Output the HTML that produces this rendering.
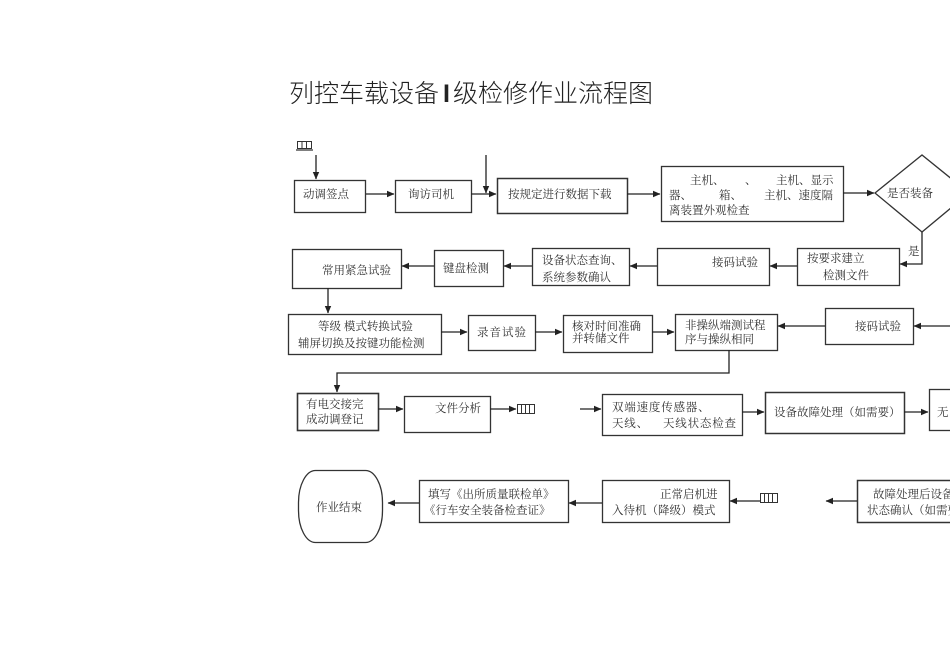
<!DOCTYPE html>
<html><head><meta charset="utf-8"><style>
html,body{margin:0;padding:0;background:#fff;}
body{width:950px;height:672px;overflow:hidden;position:relative;}
svg{position:absolute;left:0;top:0;}
text{font-family:"Liberation Serif","Noto Serif CJK SC",serif;font-size:11.5px;fill:#333;}
.t{font-family:"Liberation Sans","Noto Sans CJK SC",sans-serif;font-size:25px;fill:#222;font-weight:300;}
</style></head><body>
<svg width="950" height="672" viewBox="0 0 950 672" xmlns="http://www.w3.org/2000/svg">
<defs>
<marker id="a" markerWidth="8" markerHeight="8" refX="7" refY="4" orient="auto" markerUnits="userSpaceOnUse">
<path d="M0,0.8 L7.5,4 L0,7.2 Z" fill="#222"/>
</marker>
</defs>
<text class="t" x="289" y="102">列控车载设备<tspan font-weight="bold" dx="4">I</tspan><tspan dx="3">级检修作业流程图</tspan></text>

<g fill="none" stroke="#333" stroke-width="1.3">
<!-- glyph boxes -->
<rect x="297.5" y="141.5" width="14" height="7" stroke-width="1"/>
<line x1="302" y1="141.5" x2="302" y2="148.5" stroke-width="1"/>
<line x1="306.5" y1="141.5" x2="306.5" y2="148.5" stroke-width="1"/>
<line x1="296" y1="150" x2="313" y2="150" stroke-width="1.2"/>

<rect x="517.5" y="404.5" width="17" height="9" stroke-width="1"/>
<line x1="521.5" y1="404.5" x2="521.5" y2="413.5" stroke-width="1"/>
<line x1="525.5" y1="404.5" x2="525.5" y2="413.5" stroke-width="1"/>
<line x1="529.5" y1="404.5" x2="529.5" y2="413.5" stroke-width="1"/>

<rect x="760.5" y="493.5" width="17" height="9" stroke-width="1"/>
<line x1="764.5" y1="493.5" x2="764.5" y2="502.5" stroke-width="1"/>
<line x1="768.5" y1="493.5" x2="768.5" y2="502.5" stroke-width="1"/>
<line x1="772.5" y1="493.5" x2="772.5" y2="502.5" stroke-width="1"/>

<!-- row 1 -->
<rect x="294.5" y="180.5" width="71" height="32"/>
<rect x="395.5" y="180.5" width="76" height="32"/>
<rect x="497.5" y="178.5" width="130" height="35" stroke-width="1.5"/>
<rect x="661.5" y="166.5" width="182" height="55"/>
<path d="M875,193 L922,155 L969,193 L922,232 Z"/>
<!-- row 2 -->
<rect x="292.5" y="249.5" width="109" height="39"/>
<rect x="434.5" y="250.5" width="69" height="36"/>
<rect x="532.5" y="248.5" width="97" height="37"/>
<rect x="657.5" y="248.5" width="112" height="37"/>
<rect x="797.5" y="248.5" width="102" height="37"/>
<!-- row 3 -->
<rect x="288.5" y="314.5" width="153" height="40"/>
<rect x="468.5" y="315.5" width="67" height="35"/>
<rect x="563.5" y="315.5" width="89" height="37"/>
<rect x="675.5" y="314.5" width="102" height="36"/>
<rect x="825.5" y="308.5" width="88" height="36"/>
<!-- row 4 -->
<rect x="297.5" y="393.5" width="81" height="37" stroke-width="1.6"/>
<rect x="404.5" y="396.5" width="86" height="36"/>
<rect x="602.5" y="394.5" width="140" height="41"/>
<rect x="765.5" y="392.5" width="139" height="41" stroke-width="1.5"/>
<rect x="929.5" y="389.5" width="40" height="41"/>
<!-- row 5 -->
<rect x="298.5" y="470.5" width="84" height="72" rx="17" ry="32"/>
<rect x="419.5" y="480.5" width="149" height="42"/>
<rect x="602.5" y="480.5" width="127" height="42"/>
<rect x="857.5" y="480.5" width="120" height="42" stroke-width="1.5"/>
</g>

<g fill="none" stroke="#222" stroke-width="1.3" marker-end="url(#a)">
<line x1="316" y1="155" x2="316" y2="179"/>
<line x1="366" y1="194" x2="394" y2="194"/>
<line x1="471" y1="194" x2="496" y2="194"/>
<line x1="486" y1="155" x2="486" y2="193"/>
<line x1="627" y1="194" x2="660" y2="194"/>
<line x1="843" y1="193" x2="874" y2="193"/>
<polyline points="922,232 922,264 900,264"/>
<line x1="797" y1="266" x2="770" y2="266"/>
<line x1="657" y1="266" x2="630" y2="266"/>
<line x1="532" y1="266" x2="504" y2="266"/>
<line x1="434" y1="266" x2="402" y2="266"/>
<line x1="328" y1="288" x2="328" y2="313"/>
<line x1="441" y1="332" x2="467" y2="332"/>
<line x1="535" y1="332" x2="562" y2="332"/>
<line x1="652" y1="332" x2="674" y2="332"/>
<line x1="825" y1="326" x2="778" y2="326"/>
<line x1="950" y1="326" x2="914" y2="326"/>
<polyline points="729,350 729,373 337,373 337,392"/>
<line x1="378" y1="409" x2="403" y2="409"/>
<line x1="490" y1="409" x2="516" y2="409"/>
<line x1="580" y1="409" x2="601" y2="409"/>
<line x1="742" y1="412" x2="764" y2="412"/>
<line x1="904" y1="412" x2="928" y2="412"/>
<line x1="857" y1="501" x2="826" y2="501"/>
<line x1="760" y1="501" x2="730" y2="501"/>
<line x1="602" y1="503" x2="569" y2="503"/>
<line x1="419" y1="503" x2="388" y2="503"/>
</g>

<!-- texts -->
<text x="303" y="198">动调签点</text>
<text x="408" y="198">询访司机</text>
<text x="508" y="198">按规定进行数据下载</text>
<text x="690" y="184">主机、</text>
<text x="745" y="184">、</text>
<text x="776" y="184">主机、显示</text>
<text x="669" y="199">器、</text>
<text x="719" y="199">箱、</text>
<text x="764" y="199">主机、速度隔</text>
<text x="669" y="214">离装置外观检查</text>
<text x="887" y="197">是否装备</text>
<text x="908" y="255">是</text>
<text x="807" y="262">按要求建立</text>
<text x="823" y="279">检测文件</text>
<text x="712" y="266">接码试验</text>
<text x="542" y="264">设备状态查询、</text>
<text x="542" y="281">系统参数确认</text>
<text x="443" y="272">键盘检测</text>
<text x="322" y="274">常用紧急试验</text>

<text x="318" y="330">等级 模式转换试验</text>
<text x="298" y="347">辅屏切换及按键功能检测</text>
<text x="477" y="336" letter-spacing="1">录音试验</text>
<text x="572" y="330">核对时间准确</text>
<text x="572" y="342">并转储文件</text>
<text x="685" y="329">非操纵端测试程</text>
<text x="685" y="343">序与操纵相同</text>
<text x="855" y="330">接码试验</text>

<text x="306" y="408">有电交接完</text>
<text x="306" y="423">成动调登记</text>
<text x="435" y="412">文件分析</text>
<text x="612" y="411" letter-spacing="0.8">双端速度传感器、</text>
<text x="612" y="427" letter-spacing="0.8">天线、</text>
<text x="663" y="427" letter-spacing="0.8">天线状态检查</text>
<text x="774" y="416">设备故障处理（如需要）</text>
<text x="937" y="416">无</text>

<text x="316" y="511">作业结束</text>
<text x="428" y="498">填写《出所质量联检单》</text>
<text x="424" y="514">《行车安全装备检查证》</text>
<text x="660" y="498">正常启机进</text>
<text x="612" y="514">入待机（降级）模式</text>
<text x="873" y="498">故障处理后设备</text>
<text x="867" y="514">状态确认（如需要）</text>
</svg>
</body></html>
